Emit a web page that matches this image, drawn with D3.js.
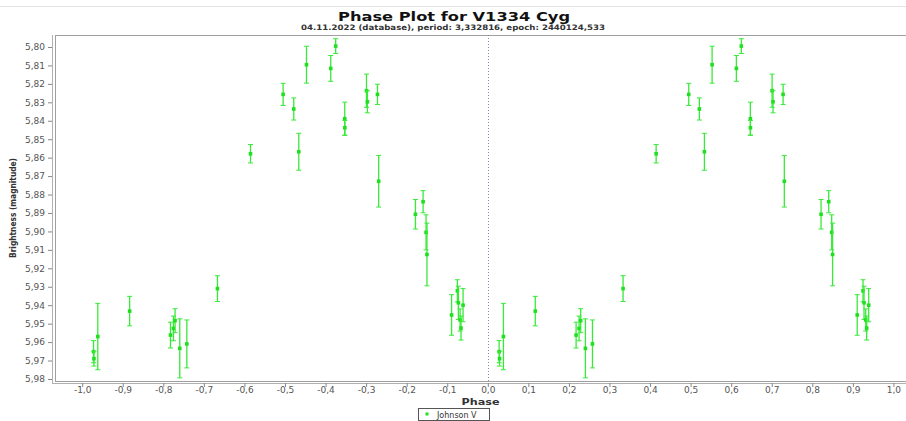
<!DOCTYPE html>
<html>
<head>
<meta charset="utf-8">
<script src="https://cdn.jsdelivr.net/npm/d3@7"></script>
<style>
  html, body { margin: 0; padding: 0; background: #fff; }
  svg { display: block; }
</style>
</head>
<body>
<svg id="chart" width="906" height="421"></svg>
<script>
// ---- data (phase in 0..1, drawn twice: p-1 and p) ----
const phases = [0.028, 0.029, 0.0385, 0.117, 0.2177, 0.225, 0.229, 0.2406, 0.258, 0.3335,
                0.415, 0.4954, 0.5216, 0.534, 0.553, 0.6128, 0.625, 0.6473, 0.6475, 0.7009,
                0.7032, 0.728, 0.731, 0.8216, 0.8405, 0.8478, 0.850, 0.9107, 0.925, 0.9275,
                0.9317, 0.934, 0.939];
const magnitudes = [5.9652, 5.9690, 5.9570, 5.9432, 5.9562, 5.9526, 5.9484, 5.9634, 5.9610, 5.9310,
                    5.8579, 5.8257, 5.8336, 5.8568, 5.8096, 5.8116, 5.7995, 5.8389, 5.8438, 5.8237,
                    5.8297, 5.8257, 5.8728, 5.8907, 5.8839, 5.9005, 5.9125, 5.9453, 5.9322, 5.9387,
                    5.9480, 5.9524, 5.9400];
const errors = [0.0060, 0.0040, 0.0180, 0.0080, 0.0070, 0.0067, 0.0065, 0.0160, 0.0130, 0.0070,
                0.0050, 0.0060, 0.0060, 0.0100, 0.0100, 0.0070, 0.0040, 0.0090, 0.0040, 0.0090,
                0.0060, 0.0055, 0.0140, 0.0080, 0.0060, 0.0095, 0.0170, 0.0110, 0.0060, 0.0090,
                0.0060, 0.0065, 0.0090];
const xTicks = d3.range(-10, 11).map(d => d / 10);
const yTicks = d3.range(0, 19).map(d => +(5.80 + d * 0.01).toFixed(2));
const seriesName = "Johnson V";
const titleText = "Phase Plot for V1334 Cyg";
const subtitleText = "04.11.2022 (database), period: 3,332816, epoch: 2440124,533";
const xLabel = "Phase";
const yLabel = "Brightness (magnitude)";

// ---- layout ----
const plotL = 55, plotR = 906, plotT = 35, plotB = 381;
const green = "#38ea38";
const markGreen = "#1fe01f";

const svg = d3.select("#chart");
const x = d3.scaleLinear().domain([-1.067, 1.031]).range([plotL, plotR]);
const y = d3.scaleLinear().domain([5.7935, 5.9811]).range([plotT, plotB]);

// faint frame line at top
svg.append("line").attr("x1", 0).attr("x2", 906).attr("y1", 6.5).attr("y2", 6.5)
  .attr("stroke", "#e4e4e4").attr("stroke-width", 1);

// title & subtitle
svg.append("text").attr("x", 454).attr("y", 21).attr("text-anchor", "middle")
  .attr("font-family", "DejaVu Sans").attr("font-weight", "bold").attr("font-size", 12)
  .attr("textLength", 232).attr("lengthAdjust", "spacingAndGlyphs")
  .attr("fill", "#111").text(titleText);
svg.append("text").attr("x", 453).attr("y", 30).attr("text-anchor", "middle")
  .attr("font-family", "DejaVu Sans").attr("font-weight", "bold").attr("font-size", 7.5)
  .attr("textLength", 304).attr("lengthAdjust", "spacingAndGlyphs")
  .attr("fill", "#333").text(subtitleText);

// plot outline
svg.append("line").attr("x1", plotL).attr("x2", plotR).attr("y1", plotT + 0.5).attr("y2", plotT + 0.5)
  .attr("stroke", "#a0a0a0");
svg.append("line").attr("x1", plotL + 0.5).attr("x2", plotL + 0.5).attr("y1", plotT).attr("y2", plotB)
  .attr("stroke", "#a0a0a0");
svg.append("line").attr("x1", plotL).attr("x2", plotR).attr("y1", plotB + 0.5).attr("y2", plotB + 0.5)
  .attr("stroke", "#a0a0a0");

// y axis
const yAxis = d3.axisLeft(y).tickValues(yTicks).tickSize(4).tickSizeOuter(0)
  .tickFormat(d => d.toFixed(2).replace(".", ","));
const gy = svg.append("g").attr("transform", `translate(${plotL - 3},0)`).call(yAxis);
gy.select(".domain").attr("stroke", "#b0b0b0").attr("d", `M0.5,${plotT}V${plotB + 3}`);
gy.selectAll(".tick line").attr("stroke", "#888");
gy.selectAll(".tick text").attr("font-family", "DejaVu Sans").attr("font-size", 9)
  .attr("fill", "#555").attr("x", -7);

// x axis
const xAxis = d3.axisBottom(x).tickValues(xTicks).tickSize(4).tickSizeOuter(0)
  .tickFormat(d => d.toFixed(1).replace(".", ","));
const gx = svg.append("g").attr("transform", `translate(0,${plotB + 2})`).call(xAxis);
gx.select(".domain").attr("stroke", "#b0b0b0").attr("d", `M${plotL - 3},0.5H${plotR}`);
gx.selectAll(".tick line").attr("stroke", "#888");
gx.selectAll(".tick text").attr("font-family", "DejaVu Sans").attr("font-size", 9)
  .attr("fill", "#555").attr("y", 4);

// zero line
svg.append("line").attr("x1", Math.round(x(0)) + 0.5).attr("x2", Math.round(x(0)) + 0.5)
  .attr("y1", plotT).attr("y2", plotB)
  .attr("stroke", "#7f8db0").attr("stroke-width", 1).attr("stroke-dasharray", "1,2");

// axis labels
svg.append("text").attr("x", (plotL + plotR) / 2).attr("y", 404.5).attr("text-anchor", "middle")
  .attr("font-family", "DejaVu Sans").attr("font-weight", "bold").attr("font-size", 9.5)
  .attr("textLength", 38).attr("lengthAdjust", "spacingAndGlyphs")
  .attr("fill", "#333").text(xLabel);
svg.append("text").attr("transform", `translate(16,${(plotT + plotB) / 2}) rotate(-90)`)
  .attr("text-anchor", "middle")
  .attr("font-family", "DejaVu Sans").attr("font-weight", "bold").attr("font-size", 9)
  .attr("textLength", 100).attr("lengthAdjust", "spacingAndGlyphs")
  .attr("fill", "#333").text(yLabel);

// data points, drawn at p-1 and p
const pts = [];
phases.forEach((p, i) => {
  [p - 1, p].forEach(ph => pts.push({ ph, m: magnitudes[i], e: errors[i] }));
});
const gp = svg.append("g");
const cap = 2.5;
const bars = gp.selectAll("g.pt").data(pts).enter().append("g").attr("class", "pt");
bars.append("line")
  .attr("x1", d => x(d.ph)).attr("x2", d => x(d.ph))
  .attr("y1", d => y(d.m - d.e)).attr("y2", d => y(d.m + d.e))
  .attr("stroke", green).attr("stroke-width", 1.3);
bars.append("line")
  .attr("x1", d => x(d.ph) - cap).attr("x2", d => x(d.ph) + cap)
  .attr("y1", d => y(d.m - d.e)).attr("y2", d => y(d.m - d.e))
  .attr("stroke", green).attr("stroke-width", 1);
bars.append("line")
  .attr("x1", d => x(d.ph) - cap).attr("x2", d => x(d.ph) + cap)
  .attr("y1", d => y(d.m + d.e)).attr("y2", d => y(d.m + d.e))
  .attr("stroke", green).attr("stroke-width", 1);
bars.append("rect")
  .attr("x", d => x(d.ph) - 1.8).attr("y", d => y(d.m) - 1.8)
  .attr("width", 3.6).attr("height", 3.6).attr("fill", markGreen);

// legend
const lg = svg.append("g");
lg.append("rect").attr("x", 418.5).attr("y", 408.5).attr("width", 71).attr("height", 12)
  .attr("fill", "#fff").attr("stroke", "#555");
lg.append("rect").attr("x", 425.5).attr("y", 412.5).attr("width", 3).attr("height", 3).attr("fill", markGreen);
lg.append("text").attr("x", 437).attr("y", 417.5)
  .attr("font-family", "DejaVu Sans").attr("font-size", 8).attr("fill", "#333")
  .text(seriesName);
</script>
</body>
</html>
